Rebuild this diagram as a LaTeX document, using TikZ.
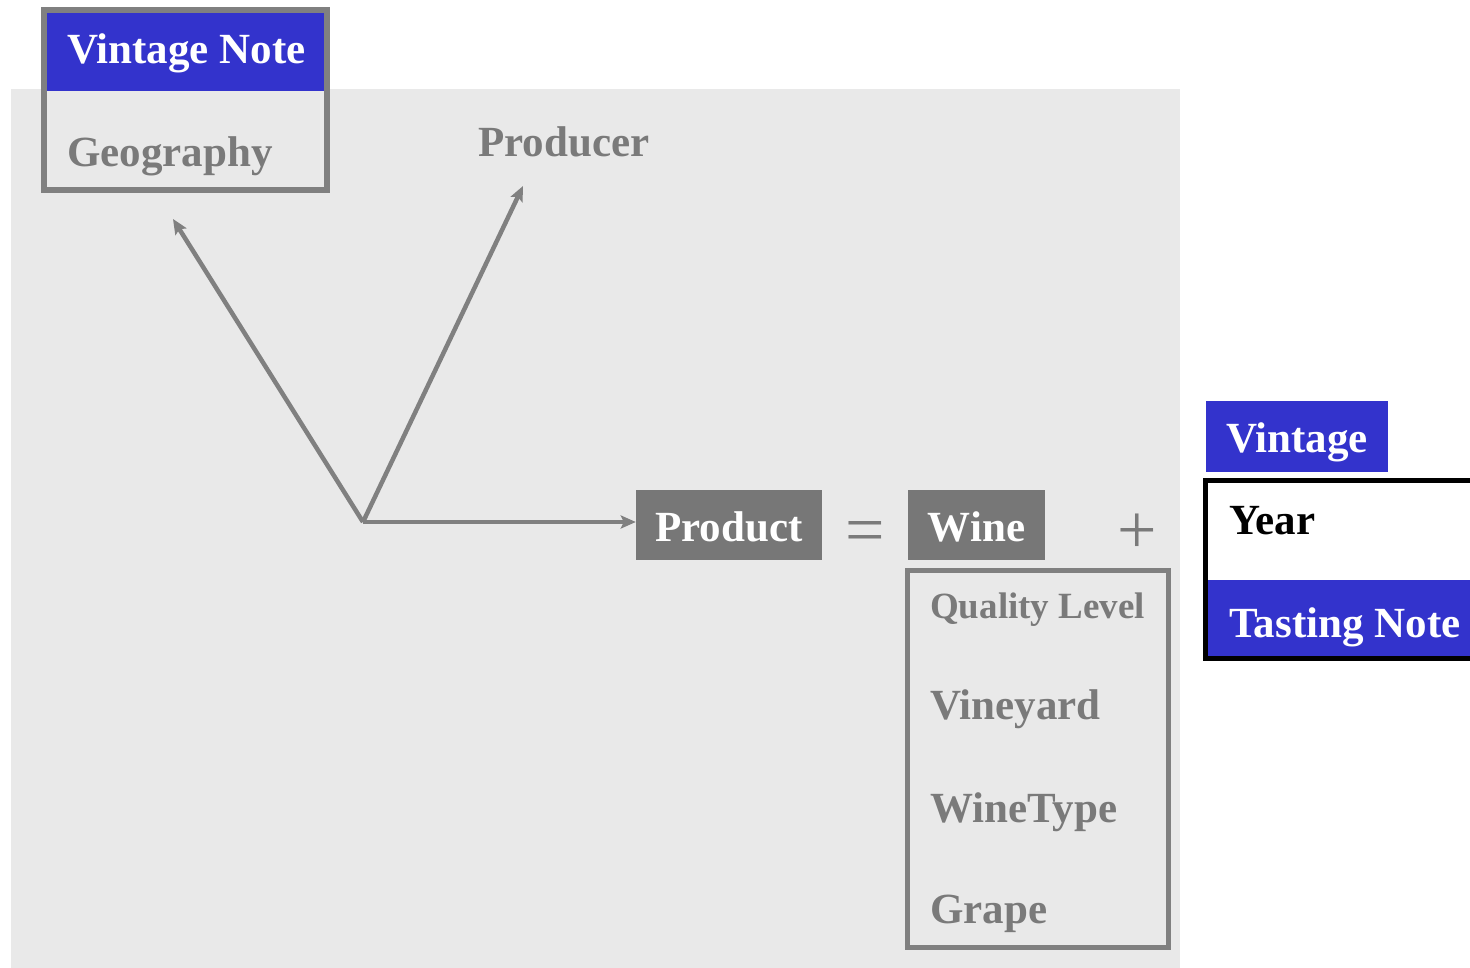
\documentclass[tikz,border=0pt]{standalone}
\usepackage{fontspec}
\setmainfont{Liberation Serif}
\usetikzlibrary{arrows.meta}
\definecolor{vblue}{HTML}{3333CC}
\definecolor{bggray}{HTML}{E9E9E9}
\definecolor{bordergray}{HTML}{808080}
\definecolor{txtgray}{HTML}{7A7A7A}
\definecolor{boxgray}{HTML}{777777}
\newcommand{\bigf}{\fontsize{43}{48}\selectfont\bfseries}
\newcommand{\midf}{\fontsize{37}{44}\selectfont\bfseries}
\tikzset{
  lbl/.style={anchor=base west, inner sep=0pt, font=\bigf},
  graylbl/.style={lbl, text=txtgray},
  whitelbl/.style={lbl, text=white},
  filledbox/.style={fill=boxgray, text=white, font=\bigf, inner sep=0pt, text height=32pt, text depth=0pt},
  conn/.style={draw=bordergray, line width=4.5pt, -{Stealth[length=15pt,width=13pt,inset=3pt]}},
  opsym/.style={text=txtgray, font=\fontsize{70}{70}\selectfont, inner sep=0pt, anchor=base}
}
\begin{document}
\begin{tikzpicture}[x=1pt,y=-1pt]
\useasboundingbox (0,0) rectangle (1470,968);
\clip (0,0) rectangle (1470,968);
% background panel
\fill[bggray] (11,89) rectangle (1180,968);
% Vintage Note box
\fill[vblue] (47,13) rectangle (324,91);
\draw[bordergray, line width=6pt] (44,10) rectangle (327,190);
\node[whitelbl] (vnote) at (67,64) {Vintage Note};
\node[graylbl] (geo) at (67,167) {Geography};
% Producer
\node[graylbl] (producer) at (478,157) {Producer};
% Product = Wine +
\node[filledbox, minimum width=186pt, minimum height=70pt] (product) at (729,525) {Product};
\node[opsym] (eq) at (865.5,553) {=};
\node[filledbox, minimum width=137pt, minimum height=70pt] (wine) at (976.5,525) {Wine};
\node[opsym] (plus) at (1137.5,553) {+};
% arrows
\coordinate (hub) at (363,522);
\coordinate (geoend) at (173,219);
\coordinate (prodend) at (523,186);
\draw[conn] (hub) -- (geoend);
\draw[conn] (hub) -- (prodend);
\draw[conn] (hub) -- (hub -| product.west);
% Wine attributes box
\draw[bordergray, line width=5pt] (907.5,570) rectangle (1168.5,947.5);
\node[lbl, font=\midf, text=txtgray] (quality) at (930,618) {Quality Level};
\node[graylbl] (vineyard) at (930,719) {Vineyard};
\node[graylbl] (winetype) at (930,822) {WineType};
\node[graylbl] (grape) at (930,923) {Grape};
% Vintage
\node[filledbox, fill=vblue, minimum width=182pt, minimum height=71pt] (vintage) at (1297,436.5) {Vintage};
\fill[white] (1208,483) rectangle (1475,580);
\fill[vblue] (1208,580) rectangle (1475,657);
\draw[black, line width=5pt] (1480,480.5) -- (1205.5,480.5) -- (1205.5,658.5) -- (1480,658.5);
\node[lbl] (year) at (1229,534) {Year};
\node[whitelbl] (tasting) at (1229,637) {Tasting Note};
\end{tikzpicture}
\end{document}
